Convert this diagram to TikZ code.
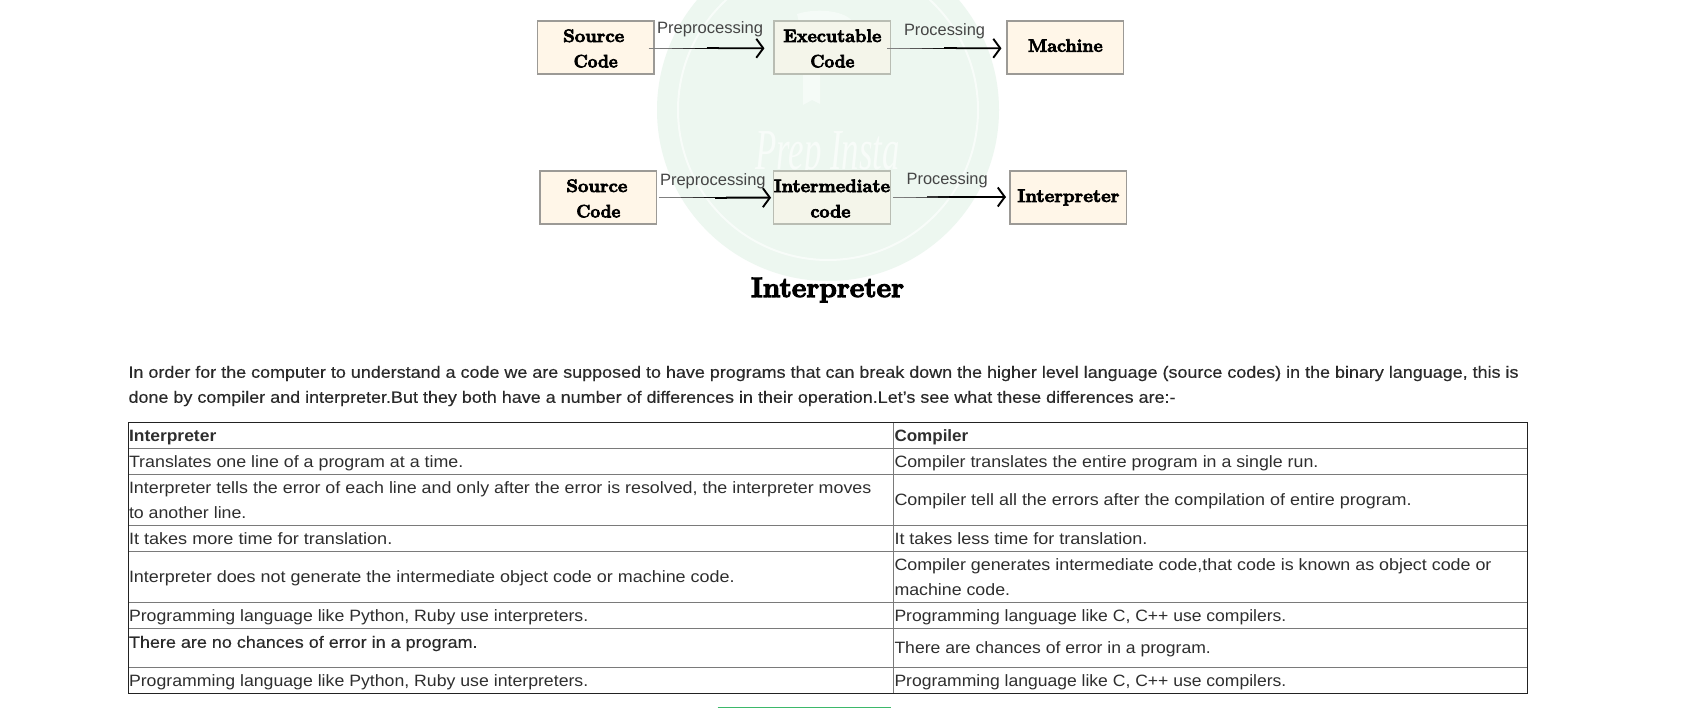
\documentclass[tikz,border=0pt]{standalone}
\usepackage{graphicx}
\usepackage{fontspec}
\setmainfont{Liberation Sans}
\newfontfamily\fatfont[FakeBold=4]{Latin Modern Roman}
\newfontfamily\parafont[FakeBold=0.3]{Liberation Sans}
\newfontfamily\markfont{Liberation Serif}
\usetikzlibrary{arrows.meta,calc}
\definecolor{cream}{HTML}{FFF6E8}
\definecolor{creamedge}{HTML}{9C9A96}
\definecolor{paleface}{HTML}{F4F5EA}
\definecolor{paleedge}{HTML}{B9BDB3}
\definecolor{markgreen}{HTML}{EDF7F0}
\definecolor{marklight}{HTML}{F8FCF9}
\definecolor{flagtone}{HTML}{F5FBF7}
\definecolor{tabledark}{HTML}{222222}
\definecolor{tablegray}{HTML}{7A7A7A}
\definecolor{bodytext}{HTML}{2E2E2E}
\definecolor{paratext}{HTML}{2A2A2A}
\definecolor{lbltext}{HTML}{454545}
\definecolor{greenrule}{HTML}{3DB86A}
\tikzset{
  x=1pt,y=-1pt,
  flowbox/.style={draw=creamedge,fill=cream,line width=1.2pt,minimum width=116.7pt,minimum height=53pt,inner sep=0pt,align=center,font=\fatfont\bfseries\fontsize{18}{25.4}\selectfont\color{black}},
  palebox/.style={flowbox,draw=paleedge,fill=paleface},
  lineword/.style={anchor=base west,inner sep=0pt,outer sep=0pt},
  flowbase/.style={line width=0.5pt,draw=black!50},
  flowhead/.style={line width=1.9pt,draw=black,line cap=butt,-{Straight Barb[length=7pt,width=19pt]}},
}
\newcommand\fitw[2]{\resizebox{#1pt}{\height}{#2}}
\newcommand\toppad{\rule{0pt}{14.6pt}}
\newcommand\txtline[6]{\node[lineword,font=#5] (#1) at (#2,#3) {\resizebox{\dimexpr #4pt-#2pt\relax}{\height}{#6}};}
% tapered arrow: from, to, x offset at start, x offset at end, y offset
\newcommand\flow[5]{%
  \draw[flowbase] ([shift={(#3,#5)}]#1.east) -- ([shift={(#4,#5)}]#2.west);
  \foreach \i in {1,...,5}{%
    \pgfmathsetmacro\strokew{0.5+0.24*\i}
    \pgfmathsetmacro\ink{min(100,40+13*\i)}
    \draw[line width=\strokew pt,draw=black!\ink]
      ($([shift={(#3,#5)}]#1.east)!{\i/10}!([shift={(#4,#5)}]#2.west)$) --
      ($([shift={(#3,#5)}]#1.east)!{(\i+1)/10+0.01}!([shift={(#4,#5)}]#2.west)$);
  }%
  \draw[flowhead] ($([shift={(#3,#5)}]#1.east)!0.6!([shift={(#4,#5)}]#2.west)$) -- ([shift={(#4,#5)}]#2.west);
}
\begin{document}
\begin{tikzpicture}
\useasboundingbox (0,0) rectangle (1701,708);
\fill[white] (0,0) rectangle (1701,708);
% watermark
\begin{scope}
\clip (0,0) rectangle (1701,708);
\fill[markgreen] (828,110) circle[radius=171];
\draw[marklight,line width=2pt] (828,110) circle[radius=150];
\fill[flagtone] (797,14) .. controls (815,8) and (845,10) .. (853,22) -- (853,40) .. controls (846,55) and (832,62) .. (820,62) -- (820,104) -- (812,100) -- (803,105) -- (803,40) -- cycle;
\end{scope}
\node[lineword,font=\markfont\itshape\fontsize{58}{58}\selectfont,text=marklight] (markword) at (755,170) {\resizebox{145pt}{\height}{Prep Insta}};
% first row
\node[flowbox] (s1) at (595.7,47.5) {\toppad\hspace*{-4pt}\fitw{61}{Source}\\\fitw{44}{Code}};
\node[palebox] (e1) at (832.4,47.5) {\toppad\fitw{98}{Executable}\\\fitw{44}{Code}};
\node[flowbox] (m1) at (1065.4,47.5) {\rule[-4pt]{0pt}{1pt}\fitw{74.6}{Machine}};
% second row
\node[flowbox] (s2) at (598.4,197.5) {\toppad\hspace*{-3pt}\fitw{61}{Source}\\\fitw{44}{Code}};
\node[palebox] (i2) at (832,197.5) {\toppad\fitw{116}{Intermediate}\\\hspace*{-3pt}\fitw{40}{code}};
\node[flowbox] (p2) at (1068.4,197.5) {\fitw{102}{Interpreter}};
% connectors
\flow{s1}{e1}{-6}{-9}{0.8}
\flow{e1}{m1}{-4}{-5}{0.8}
\flow{s2}{i2}{1.5}{-2}{0.2}
\flow{i2}{p2}{2}{-3.5}{-0.5}
% connector labels
\txtline{l1}{657}{33.3}{763}{\fontsize{16.4}{20}\selectfont\color{lbltext}}{Preprocessing}
\txtline{l2}{904}{36}{985}{\fontsize{16.4}{20}\selectfont\color{lbltext}}{Processing}
\txtline{l3}{660}{185.7}{765.7}{\fontsize{16.4}{20}\selectfont\color{lbltext}}{Preprocessing}
\txtline{l4}{906.7}{185}{987.7}{\fontsize{16.4}{20}\selectfont\color{lbltext}}{Processing}
% caption
\node[lineword,font=\fatfont\bfseries\fontsize{28}{32}\selectfont] (cap) at (751,297) {\resizebox{153pt}{\height}{Interpreter}};
% paragraph
\txtline{pa}{128.5}{377.8}{1518.6}{\parafont\fontsize{16.4}{20}\selectfont\color{paratext}}{In order for the computer to understand a code we are supposed to have programs that can break down the higher level language (source codes) in the binary language, this is}
\txtline{pb}{128.5}{402.8}{1175.6}{\parafont\fontsize{16.4}{20}\selectfont\color{paratext}}{done by compiler and interpreter.But they both have a number of differences in their operation.Let’s see what these differences are:-}
% table
\foreach \yy in {448.5,474.5,525.5,551.5,602.5,628.5,667.5}
  \draw[tablegray,line width=1pt] (128,\yy) -- (1527.5,\yy);
\draw[tablegray,line width=1pt] (893.5,422.5) -- (893.5,693.5);
\draw[tabledark,line width=1pt] (128,422.5) rectangle (1527.5,693.5);
\def\cellf{\fontsize{16.4}{20}\selectfont\color{bodytext}}
\def\headf{\bfseries\fontsize{16.4}{20}\selectfont\color{bodytext}}
\txtline{h1}{129}{441.8}{216.3}{\headf}{Interpreter}
\txtline{h2}{894.5}{441.8}{968.3}{\headf}{Compiler}
\txtline{a1}{129}{467.8}{463.3}{\cellf}{Translates one line of a program at a time.}
\txtline{b1}{894.5}{467.8}{1318.4}{\cellf}{Compiler translates the entire program in a single run.}
\txtline{a2}{129}{493.8}{871.4}{\cellf}{Interpreter tells the error of each line and only after the error is resolved, the interpreter moves}
\txtline{a2b}{129}{518.8}{246.4}{\cellf}{to another line.}
\txtline{b2}{894.5}{505.8}{1411.7}{\cellf}{Compiler tell all the errors after the compilation of entire program.}
\txtline{a3}{129}{544.5}{392.3}{\cellf}{It takes more time for translation.}
\txtline{b3}{894.5}{544.5}{1147.4}{\cellf}{It takes less time for translation.}
\txtline{a4}{129}{582.8}{734.7}{\cellf}{Interpreter does not generate the intermediate object code or machine code.}
\txtline{b4}{894.5}{570.8}{1491.5}{\cellf}{Compiler generates intermediate code,that code is known as object code or}
\txtline{b4b}{894.5}{595.8}{1010.1}{\cellf}{machine code.}
\txtline{a5}{129}{621.8}{588.3}{\cellf}{Programming language like Python, Ruby use interpreters.}
\txtline{b5}{894.5}{621.8}{1286.4}{\cellf}{Programming language like C, C++ use compilers.}
\txtline{a6}{129}{647.8}{477.6}{\parafont\fontsize{16.4}{20}\selectfont\color{paratext}}{There are no chances of error in a program.}
\txtline{b6}{894.5}{653.8}{1210.9}{\cellf}{There are chances of error in a program.}
\txtline{a7}{129}{686.8}{588.3}{\cellf}{Programming language like Python, Ruby use interpreters.}
\txtline{b7}{894.5}{686.8}{1286.4}{\cellf}{Programming language like C, C++ use compilers.}
% green rule
\draw[greenrule,line width=1pt] (717.5,707.5) -- (891,707.5);
\end{tikzpicture}
\end{document}
